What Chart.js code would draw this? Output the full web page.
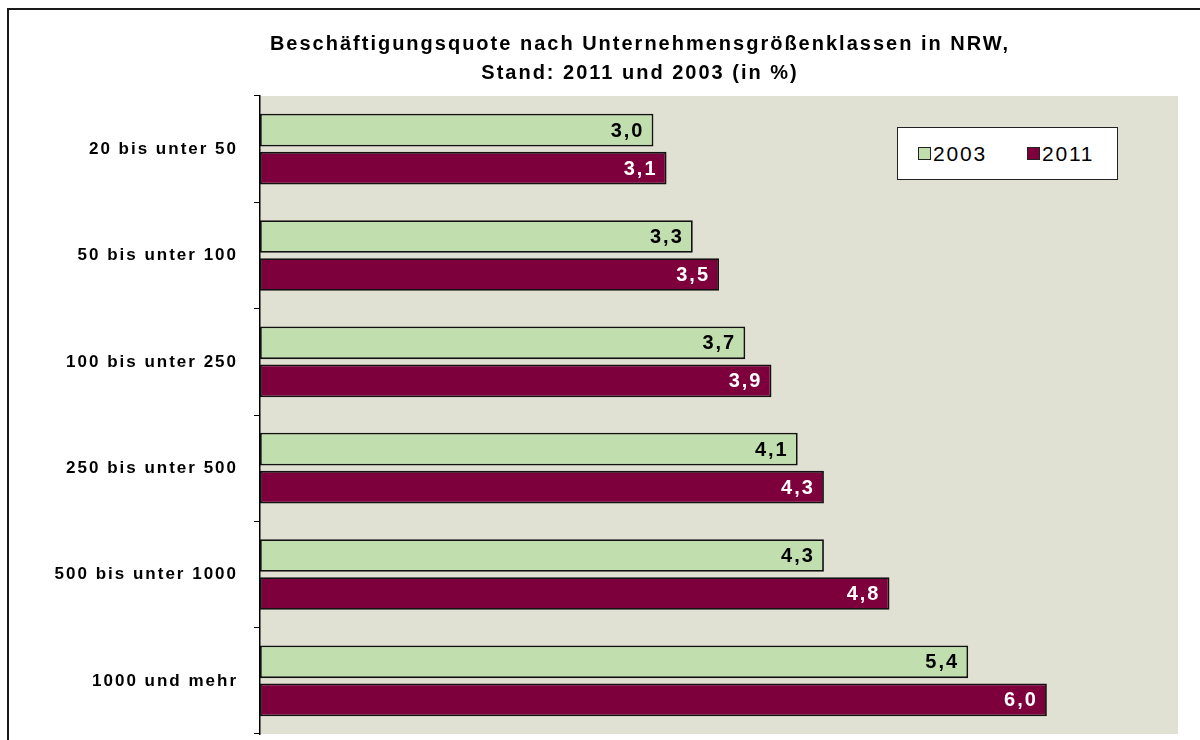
<!DOCTYPE html>
<html lang="de">
<head>
<meta charset="utf-8">
<title>Beschäftigungsquote nach Unternehmensgrößenklassen in NRW</title>
<script src="https://cdn.jsdelivr.net/npm/chart.js@4"></script>
<style>
  html, body { margin: 0; padding: 0; background: #fff; }
  #wrap { position: relative; width: 1200px; height: 740px; overflow: hidden; }
  #frame { position: absolute; left: 7px; top: 8px; width: 1300px; height: 800px;
           border-left: 2px solid #1a1a1a; border-top: 2px solid #1a1a1a; pointer-events: none; }
  #legend { position: absolute; left: 897px; top: 127px; width: 219px; height: 51px;
            background: #fff; border: 1px solid #222; display: flex; align-items: center;
            font: 21px "Liberation Sans", Arial, sans-serif; letter-spacing: 1.8px; color: #000; }
  .item { display: flex; align-items: center; }
  .item:first-child { margin-left: 20px; margin-right: 40px; }
  .swatch { width: 11px; height: 11px; border: 1px solid #222; margin-right: 2px; }
</style>
</head>
<body>
<div id="wrap">
  <canvas id="chart" width="1200" height="740"></canvas>
  <div id="frame"></div>
  <div id="legend"></div>
</div>
<script>
const categories = ['20 bis unter 50', '50 bis unter 100', '100 bis unter 250',
                    '250 bis unter 500', '500 bis unter 1000', '1000 und mehr'];
const seriesNames = ['2003', '2011'];
const values2003 = [3.0, 3.3, 3.7, 4.1, 4.3, 5.4];
const values2011 = [3.1, 3.5, 3.9, 4.3, 4.8, 6.0];
const seriesColors = ['#c1deae', '#7d003c'];
const labelColors = ['#000000', '#ffffff'];
const titleLines = ['Beschäftigungsquote nach Unternehmensgrößenklassen in NRW,',
                    'Stand: 2011 und 2003 (in %)'];

const fontFamily = '"Liberation Sans", Arial, sans-serif';

function formatValue(v) {
    return v.toFixed(1).replace('.', ',');
}

// Excel draws its text a bit wider than the canvas does
const textSpacing = {
    id: 'textSpacing',
    beforeLayout(chart) { chart.ctx.letterSpacing = '2px'; },
    beforeDraw(chart) { chart.ctx.letterSpacing = '2px'; }
};

const plotBackground = {
    id: 'plotBackground',
    beforeDraw(chart) {
        const { ctx, chartArea } = chart;
        ctx.save();
        ctx.fillStyle = '#e0e0d3';
        ctx.fillRect(chartArea.left, chartArea.top, chartArea.right - chartArea.left, chartArea.bottom - chartArea.top);
        ctx.restore();
    }
};

const valueLabels = {
    id: 'valueLabels',
    afterDatasetsDraw(chart) {
        const ctx = chart.ctx;
        ctx.save();
        ctx.font = 'bold 20px ' + fontFamily;
        ctx.textAlign = 'right';
        ctx.textBaseline = 'middle';
        chart.data.datasets.forEach((ds, i) => {
            ctx.fillStyle = labelColors[i];
            chart.getDatasetMeta(i).data.forEach((bar, j) => {
                ctx.fillText(formatValue(ds.data[j]), bar.x - 9, bar.y + 1);
            });
        });
        ctx.restore();
    }
};

const datasets = [values2003, values2011].map((values, i) => ({
    label: seriesNames[i],
    data: values,
    backgroundColor: seriesColors[i],
    borderColor: '#111',
    borderWidth: 1.8,
    borderSkipped: false,
    categoryPercentage: 0.715,
    barPercentage: 0.86
}));

new Chart(document.getElementById('chart').getContext('2d'), {
    type: 'bar',
    data: { labels: categories, datasets: datasets },
    options: {
        indexAxis: 'y',
        responsive: false,
        animation: false,
        layout: { padding: { left: 102, right: 22, top: 0, bottom: 6 } },
        plugins: {
            legend: { display: false },
            tooltip: { enabled: false },
            title: {
                display: true,
                text: titleLines,
                color: '#000',
                font: { family: fontFamily, size: 20, weight: 'bold', lineHeight: 1.45 },
                padding: { top: 30, bottom: 8 }
            }
        },
        scales: {
            x: { display: false, min: 0, max: 7 },
            y: {
                afterFit(scale) {
                    scale.width = 158;
                    // labels sit between the tick marks, no extra room needed above/below
                    scale.paddingTop = 0;
                    scale.paddingBottom = 0;
                    scale._computeLabelArea = () => null; // let long labels run past the axis box
                },
                border: { display: true, color: '#000', width: 1.5 },
                grid: { drawOnChartArea: false, drawTicks: true, tickLength: 6, color: '#000', lineWidth: 1, offset: true },
                ticks: {
                    color: '#000',
                    padding: 16,
                    font: { family: fontFamily, size: 17, weight: 'bold' }
                }
            }
        }
    },
    plugins: [textSpacing, plotBackground, valueLabels]
});

const legend = document.getElementById('legend');
seriesNames.forEach((name, i) => {
    const item = document.createElement('div');
    item.className = 'item';
    const swatch = document.createElement('span');
    swatch.className = 'swatch';
    swatch.style.background = seriesColors[i];
    const text = document.createElement('span');
    text.textContent = name;
    item.appendChild(swatch);
    item.appendChild(text);
    legend.appendChild(item);
});
</script>
</body>
</html>
